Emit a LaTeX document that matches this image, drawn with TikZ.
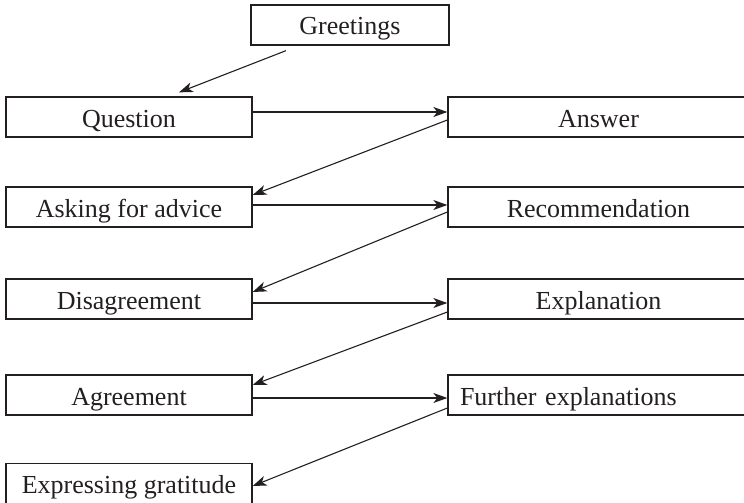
\documentclass[tikz,border=0pt]{standalone}
\usepackage{fontspec}
\setmainfont{Liberation Serif}
\usetikzlibrary{arrows.meta}
\definecolor{ink}{HTML}{231F20}
\tikzset{
  box/.style={draw=ink, line width=1.3pt, inner sep=0pt, text height=30pt, text depth=10pt,
              minimum height=40pt, font=\fontsize{26}{30}\selectfont, text=ink},
  lbox/.style={box, minimum width=246pt},
  rbox/.style={box, minimum width=301pt},
  arr/.style={draw=ink, line width=1.1pt, -{Stealth[length=14pt,width=10pt,inset=4pt]}}
}
\begin{document}
\begin{tikzpicture}[x=1pt,y=-1pt]
\useasboundingbox (0,0) rectangle (744,503);
\node[box, minimum width=198pt] (g) at (350,25) {Greetings};
\node[lbox] (q)    at (129,117) {Question};
\node[rbox] (a)    at (598.5,117) {Answer};
\node[lbox] (ask)  at (129,207) {Asking for advice};
\node[rbox] (rec)  at (598.5,207) {Recommendation};
\node[lbox] (dis)  at (129,299) {Disagreement};
\node[rbox] (exp)  at (598.5,299) {Explanation};
\node[lbox] (agr)  at (129,395) {Agreement};
\node[box, text width=277pt, inner xsep=12pt, align=left] (fur) at (598.5,395) {Further explanations};
\node[lbox] (grat) at (129,483.5) {Expressing gratitude};

\draw[arr] ([xshift=-64pt,yshift=-5pt]g.south) -- ([xshift=50pt,yshift=4pt]q.north);
\draw[arr] ([yshift=5pt]q.east) -- ([yshift=5pt]a.west);
\draw[arr] ([yshift=-3pt]a.west) -- ([yshift=12pt]ask.east);
\draw[arr] ([yshift=2pt]ask.east) -- ([yshift=2pt]rec.west);
\draw[arr] ([yshift=-5pt]rec.west) -- ([yshift=7pt]dis.east);
\draw[arr] ([yshift=-4pt]dis.east) -- ([yshift=-4pt]exp.west);
\draw[arr] ([yshift=-13pt]exp.west) -- ([yshift=10pt]agr.east);
\draw[arr] ([yshift=-3pt]agr.east) -- ([yshift=-3pt]fur.west);
\draw[arr] ([yshift=-13pt]fur.west) -- ([yshift=-2.5pt]grat.east);
\end{tikzpicture}
\end{document}
